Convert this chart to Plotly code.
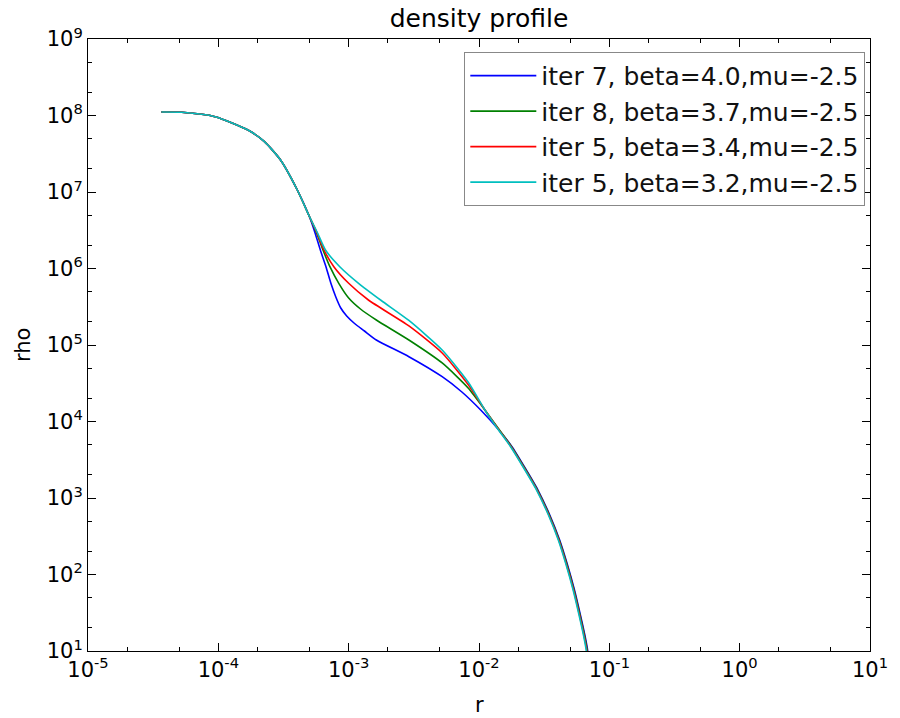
import plotly.graph_objects as go

# shared inner core of every run
r_head = [3.655e-5, 5.244e-5, 9.44e-5, 1.688e-4, 2.258e-4, 3.001e-4, 4.037e-4, 4.977e-4]
rho_head = [1.111e8, 1.101e8, 9.65e7, 6.465e7, 4.546e7, 2.62e7, 1.062e7, 4.857e6]

# outer fall-off, common to the runs
rho_tail = [8.222e3, 4.685e3, 2.467e3, 1.272e3, 599.5, 282.5, 133.1, 62.7, 29.55, 16.19, 10.3, 5.32]

# iter 7, beta=4.0
r_blue = [5.526e-4, 6.062e-4, 6.695e-4, 7.305e-4, 7.969e-4, 8.696e-4, 9.656e-4, 1.110e-3,
          1.322e-3, 1.63e-3, 2.898e-3, 5.217e-3, 7.393e-3, 1.048e-2,
          1.410e-2, 1.790e-2, 2.258e-2, 2.833e-2, 3.491e-2, 4.157e-2, 4.779e-2, 5.402e-2,
          5.997e-2, 6.485e-2, 6.811e-2, 7.141e-2]
rho_blue = [2.912e6, 1.745e6, 1.056e6, 6.405e5, 4.242e5, 3.046e5, 2.394e5, 1.91e5,
            1.524e5, 1.163e5, 7.035e4, 3.852e4, 2.43e4, 1.372e4,
            7.86e3, 4.685e3, 2.467e3, 1.272e3, 599.5, 282.5, 133.1, 62.7, 29.55, 16.19, 10.3, 5.32]

# iter 8, beta=3.7
r_green = [5.673e-4, 6.353e-4, 7.179e-4, 8.397e-4, 1.0e-3, 1.232e-3, 1.63e-3, 2.898e-3,
           5.217e-3, 8.254e-3, 1.11e-2,
           1.399e-2, 1.776e-2, 2.240e-2, 2.810e-2, 3.464e-2, 4.124e-2, 4.741e-2, 5.359e-2,
           5.950e-2, 6.434e-2, 6.757e-2, 7.084e-2]
rho_green = [2.912e6, 1.745e6, 1.056e6, 6.405e5, 4.116e5, 2.955e5, 2.122e5, 1.163e5,
             5.818e4, 2.741e4, 1.414e4] + rho_tail

# iter 5, beta=3.4
r_red = [5.723e-4, 6.465e-4, 7.697e-4, 1.0e-3, 1.417e-3, 2.898e-3, 5.217e-3, 8.254e-3, 1.11e-2,
         1.387e-2, 1.762e-2, 2.222e-2, 2.788e-2, 3.436e-2, 4.092e-2, 4.703e-2, 5.317e-2,
         5.902e-2, 6.382e-2, 6.703e-2, 7.028e-2]
rho_red = [2.912e6, 1.745e6, 1.056e6, 6.405e5, 3.874e5, 1.775e5, 7.862e4, 3.046e4,
           1.414e4] + rho_tail

# iter 5, beta=3.2
r_cyan = [5.773e-4, 6.637e-4, 8.545e-4, 1.191e-3, 1.778e-3, 2.898e-3, 5.217e-3, 8.254e-3, 1.11e-2,
          1.376e-2, 1.748e-2, 2.204e-2, 2.765e-2, 3.409e-2, 4.059e-2, 4.665e-2, 5.274e-2,
          5.855e-2, 6.331e-2, 6.649e-2, 6.971e-2]
rho_cyan = [2.912e6, 1.745e6, 1.056e6, 6.405e5, 3.816e5, 2.093e5, 8.603e4, 3.283e4,
            1.414e4] + rho_tail

labels = ["iter 7, beta=4.0,mu=-2.5", "iter 8, beta=3.7,mu=-2.5",
          "iter 5, beta=3.4,mu=-2.5", "iter 5, beta=3.2,mu=-2.5"]
colors = ["#0000ff", "#008000", "#ff0000", "#00bfbf"]

x_ticks = [1e-5, 1e-4, 1e-3, 1e-2, 1e-1, 1e0, 1e1]
x_ticktext = ["10<sup>-5</sup>", "10<sup>-4</sup>", "10<sup>-3</sup>", "10<sup>-2</sup>",
              "10<sup>-1</sup>", "10<sup>0</sup>", "10<sup>1</sup>"]
y_ticks = [1e1, 1e2, 1e3, 1e4, 1e5, 1e6, 1e7, 1e8, 1e9]
y_ticktext = ["10<sup>%d</sup>" % k for k in range(1, 10)]

series = [(r_blue, rho_blue), (r_green, rho_green), (r_red, rho_red), (r_cyan, rho_cyan)]

fig = go.Figure()
for (rr, dd), name, c in zip(series, labels, colors):
    fig.add_trace(go.Scatter(
        x=r_head + rr, y=rho_head + dd, mode="lines", name=name,
        line=dict(color=c, width=1.6, shape="spline", smoothing=0.6),
    ))

font = "DejaVu Sans, sans-serif"
axis_common = dict(
    type="log", showgrid=False, zeroline=False, showline=True, linecolor="black",
    linewidth=1, mirror="ticks", ticks="inside", ticklen=8, tickcolor="black",
    tickfont=dict(family=font, size=21, color="black"),
    minor=dict(ticks="inside", ticklen=4, tickcolor="black", showgrid=False),
)

fig.update_layout(
    width=900, height=718,
    margin=dict(l=88, r=20, t=39, b=67),
    paper_bgcolor="white", plot_bgcolor="white",
    font=dict(family=font, color="black"),
    title=dict(text="density profile", x=0.5, xref="paper", y=1 - 18 / 718,
               yref="container", yanchor="middle", xanchor="center",
               font=dict(family=font, size=25, color="black")),
    xaxis=dict(range=[-5, 1], tickvals=x_ticks, ticktext=x_ticktext, **axis_common),
    yaxis=dict(range=[1, 9], tickvals=y_ticks, ticktext=y_ticktext, **axis_common),
    legend=dict(x=0.994, y=0.979, xanchor="right", yanchor="top",
                bgcolor="white", bordercolor="#888888", borderwidth=1,
                font=dict(family=font, size=25, color="#111111"),
                itemwidth=66),
    showlegend=True,
    annotations=[
        dict(text="r", x=0.5, y=-0.088, xref="paper", yref="paper", showarrow=False,
             xanchor="center", yanchor="middle", font=dict(family=font, size=21)),
        dict(text="rho", x=-0.083, y=0.5, xref="paper", yref="paper", showarrow=False,
             textangle=-90, xanchor="center", yanchor="middle",
             font=dict(family=font, size=21)),
    ],
)

fig.write_html("out.html")
